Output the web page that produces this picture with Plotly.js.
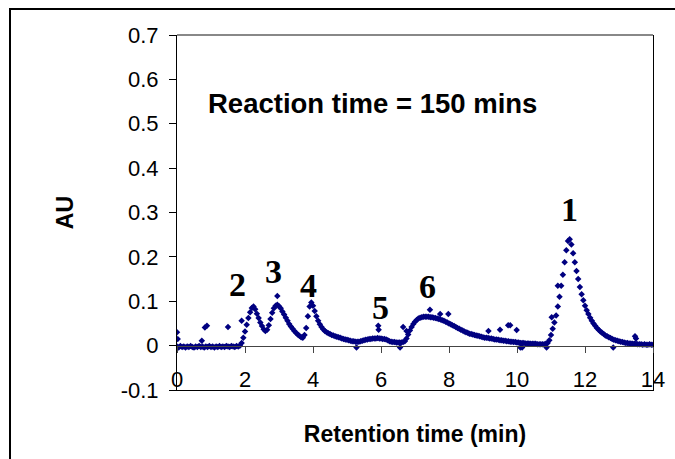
<!DOCTYPE html>
<html>
<head>
<meta charset="utf-8">
<script src="https://cdn.plot.ly/plotly-3.0.1.min.js"></script>
<style>
  html, body { margin: 0; padding: 0; background: #fff; }
  #wrap { position: relative; width: 675px; height: 459px; overflow: hidden; }
  #chart { position: absolute; left: 0; top: 0; width: 675px; height: 459px; }
  #frame { position: absolute; left: 9px; top: 8px; width: 700px; height: 500px;
           border-left: 2px solid #000; border-top: 2px solid #000; pointer-events: none; }
</style>
</head>
<body>
<div id="wrap">
  <div id="chart"></div>
  <div id="frame"></div>
</div>
<script>
// Retention time (min) and absorbance (AU)
const rt = [
  0.00,0.05,0.10,0.15,0.20,0.25,0.30,0.35,0.40,0.45,0.50,0.55,0.60,0.65,0.70,0.75,0.80,0.85,0.90,0.95,
  1.00,1.05,1.10,1.15,1.20,1.25,1.30,1.35,1.40,1.45,1.50,1.55,1.60,1.65,1.70,1.75,1.80,1.85,1.90,1.95,
  2.00,2.05,2.10,2.15,2.20,2.25,2.30,2.35,2.40,2.45,2.50,2.55,2.60,2.65,2.70,2.75,2.80,2.85,2.90,2.95,
  3.00,3.05,3.10,3.15,3.20,3.25,3.30,3.35,3.40,3.45,3.50,3.55,3.60,3.65,3.70,3.75,3.80,3.85,3.90,3.95,
  4.00,4.05,4.10,4.15,4.20,4.25,4.30,4.35,4.40,4.45,4.50,4.55,4.60,4.65,4.70,4.75,4.80,4.85,4.90,4.95,
  5.00,5.05,5.10,5.15,5.20,5.25,5.30,5.35,5.40,5.45,5.50,5.55,5.60,5.65,5.70,5.75,5.80,5.85,5.90,5.95,
  6.00,6.05,6.10,6.15,6.20,6.25,6.30,6.35,6.40,6.45,6.50,6.55,6.60,6.65,6.70,6.75,6.80,6.85,6.90,6.95,
  7.00,7.05,7.10,7.15,7.20,7.25,7.30,7.35,7.40,7.45,7.50,7.55,7.60,7.65,7.70,7.75,7.80,7.85,7.90,7.95,
  8.00,8.05,8.10,8.15,8.20,8.25,8.30,8.35,8.40,8.45,8.50,8.55,8.60,8.65,8.70,8.75,8.80,8.85,8.90,8.95,
  9.00,9.05,9.10,9.15,9.20,9.25,9.30,9.35,9.40,9.45,9.50,9.55,9.60,9.65,9.70,9.75,9.80,9.85,9.90,9.95,
  10.00,10.05,10.10,10.15,10.20,10.25,10.30,10.35,10.40,10.45,10.50,10.55,10.60,10.65,10.70,10.75,10.80,10.85,10.90,10.95,
  11.00,11.05,11.10,11.15,11.20,11.25,11.30,11.35,11.40,11.45,11.50,11.55,11.60,11.65,11.70,11.75,11.80,11.85,11.90,11.95,
  12.00,12.05,12.10,12.15,12.20,12.25,12.30,12.35,12.40,12.45,12.50,12.55,12.60,12.65,12.70,12.75,12.80,12.85,12.90,12.95,
  13.00,13.05,13.10,13.15,13.20,13.25,13.30,13.35,13.40,13.45,13.50,13.55,13.60,13.65,13.70,13.75,13.80,13.85,13.90,13.95,
  14.00
];
const au = [
  -0.002,-0.004,-0.001,-0.003,-0.002,-0.004,-0.002,-0.003,-0.001,-0.003,-0.004,-0.002,-0.003,-0.001,-0.003,-0.002,-0.004,-0.002,-0.003,-0.001,
  -0.003,-0.002,-0.004,-0.002,-0.003,-0.001,-0.003,-0.002,-0.003,-0.001,-0.002,-0.003,-0.001,-0.002,-0.003,-0.001,-0.002,0.000,0.006,0.018,
  0.032,0.047,0.062,0.075,0.085,0.088,0.082,0.072,0.062,0.052,0.044,0.037,0.033,0.036,0.046,0.060,0.074,0.084,0.090,0.092,
  0.089,0.084,0.077,0.070,0.063,0.056,0.049,0.043,0.038,0.033,0.029,0.025,0.022,0.019,0.018,0.024,0.040,0.066,0.088,0.097,
  0.090,0.078,0.066,0.056,0.048,0.042,0.037,0.033,0.030,0.028,0.026,0.024,0.023,0.021,0.020,0.019,0.018,0.016,0.015,0.014,
  0.013,0.012,0.011,0.010,0.010,0.009,0.009,0.009,0.010,0.011,0.012,0.013,0.014,0.015,0.015,0.016,0.016,0.016,0.017,0.016,
  0.016,0.015,0.015,0.014,0.012,0.010,0.009,0.008,0.008,0.007,0.007,0.007,0.007,0.008,0.010,0.016,0.025,0.034,0.042,0.049,
  0.054,0.058,0.061,0.063,0.064,0.065,0.065,0.065,0.065,0.064,0.064,0.063,0.062,0.061,0.060,0.059,0.057,0.056,0.054,0.052,
  0.050,0.048,0.046,0.044,0.042,0.040,0.038,0.036,0.034,0.032,0.030,0.029,0.027,0.026,0.025,0.024,0.023,0.022,0.021,0.020,
  0.019,0.018,0.018,0.017,0.016,0.016,0.015,0.014,0.014,0.013,0.012,0.012,0.011,0.011,0.010,0.010,0.009,0.009,0.008,0.008,
  0.007,0.007,0.006,0.006,0.006,0.005,0.005,0.005,0.004,0.004,0.004,0.004,0.003,0.003,0.003,0.003,0.003,0.004,0.006,0.012,
  0.024,0.038,0.052,0.068,0.088,0.110,0.135,0.160,0.188,0.215,0.236,0.240,0.228,0.208,0.188,0.168,0.150,0.132,0.116,0.102,
  0.090,0.080,0.071,0.063,0.056,0.050,0.045,0.040,0.036,0.032,0.029,0.026,0.023,0.021,0.019,0.017,0.015,0.013,0.012,0.011,
  0.010,0.009,0.008,0.007,0.006,0.006,0.005,0.005,0.004,0.004,0.004,0.003,0.003,0.003,0.002,0.003,0.002,0.002,0.003,0.002,
  0.002
];
// Scattered detector points away from the main trace
const rtOut = [0.00,0.02,0.73,0.82,0.88,1.50,1.90,2.95,5.28,5.92,5.93,6.56,6.65,6.75,7.44,7.74,7.98,9.16,9.50,9.74,9.80,9.99,10.10,10.15,10.87,11.02,11.20,12.83,13.47,13.50];
const auOut = [0.030,0.015,0.011,0.041,0.045,0.042,0.056,0.112,-0.004,0.045,0.036,-0.004,0.042,0.033,0.081,0.071,0.071,0.033,0.036,0.046,0.046,0.035,-0.004,-0.004,-0.004,0.064,0.135,-0.004,0.021,0.016];

const xTicks = [0,2,4,6,8,10,12,14];
const yTicks = [-0.1,0,0.1,0.2,0.3,0.4,0.5,0.6,0.7];
const yTickText = ['-0.1','0','0.1','0.2','0.3','0.4','0.5','0.6','0.7'];
const peakLabels = ['1','2','3','4','5','6'];
const peakX = [11.53,1.79,2.85,3.88,5.99,7.38];
const peakY = [0.306,0.137,0.168,0.136,0.087,0.133];
const note = 'Reaction time = 150 mins';

const arial = 'Arial, "Liberation Sans", sans-serif';
const serif = '"Times New Roman", "Liberation Serif", serif';

const traces = [
  {
    x: rt.concat(rtOut), y: au.concat(auOut),
    type: 'scatter', mode: 'markers',
    marker: {symbol: 'diamond', size: 5, color: '#000080', line: {width: 0}},
    showlegend: false, hoverinfo: 'x+y'
  },
  { x: [], y: [], xaxis: 'x2', yaxis: 'y', type: 'scatter', mode: 'markers', showlegend: false }
];

const annotations = peakLabels.map((t, i) => ({
  x: peakX[i], y: peakY[i], xref: 'x', yref: 'y', text: '<b>' + t + '</b>',
  showarrow: false, font: {family: serif, size: 34, color: '#000'}
}));
annotations.push({
  x: 5.76, y: 0.545, xref: 'x', yref: 'y', text: '<b>' + note + '</b>', showarrow: false,
  font: {family: arial, size: 27.5, color: '#000'}
});

const layout = {
  width: 675, height: 459,
  margin: {l: 177, r: 22, t: 35, b: 69, pad: 0},
  paper_bgcolor: '#fff', plot_bgcolor: '#fff',
  font: {family: arial, color: '#000'},
  xaxis: {
    range: [0, 14], tickvals: xTicks, ticktext: xTicks.map(String),
    showgrid: false, zeroline: false, ticks: '', showline: true, linecolor: '#000', linewidth: 1,
    ticklabelposition: 'inside', ticklabeloverflow: 'allow',
    tickfont: {family: arial, size: 22, color: '#000'},
    title: {text: '<b>Retention time (min)</b>', font: {family: arial, size: 23, color: '#000'}, standoff: 34},
    automargin: false
  },
  xaxis2: {
    range: [0, 14], overlaying: 'x', anchor: 'free', position: 0.125,
    tickvals: xTicks, showticklabels: false, ticks: 'outside', ticklen: 6, tickcolor: '#444',
    showline: true, linecolor: '#444', linewidth: 1, showgrid: false, zeroline: false
  },
  yaxis: {
    range: [-0.1, 0.7], tickvals: yTicks, ticktext: yTickText,
    showgrid: false, zeroline: false, ticks: 'outside', ticklen: 7, tickcolor: '#000',
    showline: true, linecolor: '#000', linewidth: 1, mirror: true,
    tickfont: {family: arial, size: 22, color: '#000'}, ticklabelstandoff: 6,
    title: {text: '<b>AU</b>', font: {family: arial, size: 23, color: '#000'}, standoff: 40},
    automargin: false
  },
  shapes: [
    {type: 'line', xref: 'paper', yref: 'paper', x0: 0, x1: 1, y0: 1, y1: 1,
     line: {color: '#888', width: 2}, layer: 'below'}
  ],
  annotations: annotations
};

Plotly.newPlot('chart', traces, layout, {displayModeBar: false, staticPlot: true});
</script>
</body>
</html>
